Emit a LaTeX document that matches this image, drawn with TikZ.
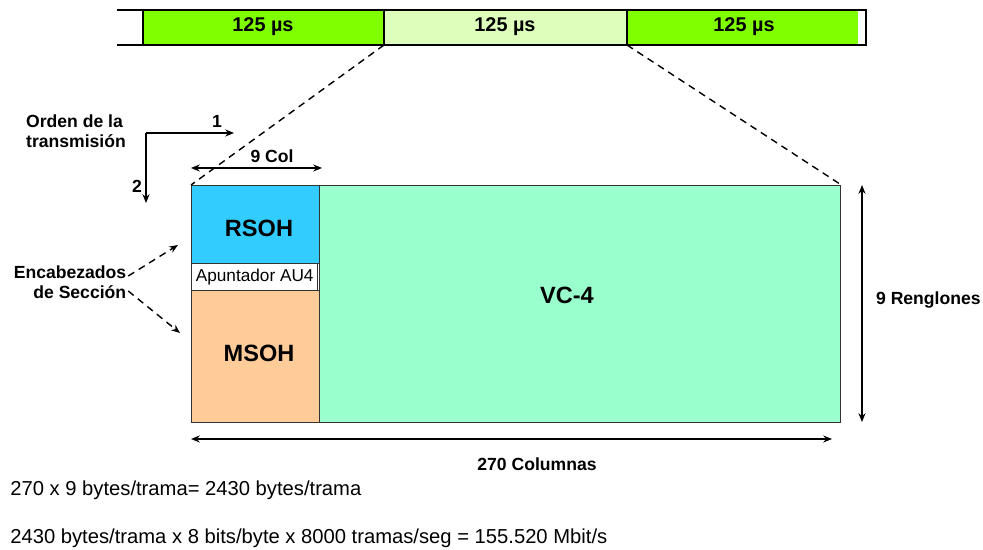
\documentclass[tikz,border=0pt]{standalone}
\usepackage{fontspec}
\setmainfont{Liberation Sans}
\usepackage{tikz}
\usetikzlibrary{arrows.meta}

\definecolor{brightgreen}{HTML}{80FF00}
\definecolor{palegreen}{HTML}{DDFFBB}
\definecolor{rsohblue}{HTML}{33CCFF}
\definecolor{msohtan}{HTML}{FFCC99}
\definecolor{vcgreen}{HTML}{99FFCC}

\tikzset{
  field/.style={draw=black!80, line width=0.8pt},
  dimarrow/.style={{Stealth[length=5pt,width=4pt]}-{Stealth[length=5pt,width=4pt]}, line width=0.7pt},
  zoomline/.style={dashed, dash pattern=on 4pt off 3pt, line width=0.8pt},
  hint/.style={-{Stealth[length=5pt,width=4pt]}, dashed, dash pattern=on 4pt off 3pt, line width=0.8pt},
  lbl/.style={font=\bfseries\fontsize{10}{11.5}\selectfont, inner sep=1pt},
  slot/.style={font=\bfseries\fontsize{11.3}{13}\selectfont},
  big/.style={font=\bfseries\fontsize{13.4}{15}\selectfont},
  calc/.style={font=\fontsize{11.5}{13}\selectfont, anchor=west, inner sep=0pt}
}

\begin{document}
\begin{tikzpicture}[x=0.02cm, y=-0.02cm]
  \useasboundingbox (0,0) rectangle (983,550);
  % frame sequence
  \fill[brightgreen] (143,10) rectangle (384,45);
  \fill[palegreen] (384,10) rectangle (627,45);
  \fill[brightgreen] (627,10) rectangle (858,45);
  \draw[line width=0.8pt] (117,10) -- (866,10) -- (866,45) -- (117,45);
  \draw[line width=0.8pt] (143,10) -- (143,45) (384,10) -- (384,45) (627,10) -- (627,45);
  \node[slot] (t1) at (263,27) {125 µs};
  \node[slot] (t2) at (505,27) {125 µs};
  \node[slot] (t3) at (744,27) {125 µs};
  \coordinate (fl) at (384,45);
  \coordinate (fr) at (627,45);
  % STM-1 frame
  \node[field, fill=vcgreen, minimum width=521*0.02cm, minimum height=237*0.02cm, anchor=north west,
        inner sep=0pt] (vc) at (319,185) {};
  \node[field, fill=rsohblue, minimum width=128*0.02cm, minimum height=78*0.02cm, anchor=north west,
        inner sep=0pt] (rsoh) at (191,185) {};
  \node[field, fill=white, minimum width=126*0.02cm, minimum height=27*0.02cm, anchor=north west,
        inner sep=0pt] (ptr) at (191,263) {};
  \node[field, fill=msohtan, minimum width=128*0.02cm, minimum height=132*0.02cm, anchor=north west,
        inner sep=0pt] (msoh) at (191,290) {};
  \node[big] at (259,228) {RSOH};
  \node[font=\fontsize{9.8}{11}\selectfont] at (ptr) {Apuntador AU4};
  \node[big] at (259,353) {MSOH};
  \node[big] at (567,295) {VC-4};
  \draw[zoomline] (fl) -- (rsoh.north west);
  \draw[zoomline] (fr) -- (vc.north east);
  % dimensions
  \coordinate (c1) at (191,168);
  \coordinate (c2) at (322,168);
  \draw[dimarrow] (c1) -- (c2);
  \node[lbl] (ncol) at (272,156) {9 Col};
  \coordinate (r1) at (862,185);
  \coordinate (r2) at (862,422);
  \draw[dimarrow] (r1) -- (r2);
  \node[lbl, anchor=west] (nren) at (874,300) {9 Renglones};
  \coordinate (b1) at (191,439);
  \coordinate (b2) at (832,439);
  \draw[dimarrow] (b1) -- (b2);
  \node[lbl] (ncols) at (537,464) {270 Columnas};
  % transmission order
  \node[lbl, align=left] (orden) at (76,131) {Orden de la\\transmisión};
  \coordinate (o0) at (146,133);
  \coordinate (o1) at (234,133);
  \coordinate (o2) at (146,203);
  \draw[-{Stealth[length=5pt,width=4pt]}, line width=0.7pt] (o0) -- (o1);
  \draw[-{Stealth[length=5pt,width=4pt]}, line width=0.7pt] (o0) -- (o2);
  \node[lbl] (n1) at (217,121) {1};
  \node[lbl] (n2) at (137,186) {2};
  % section overheads
  \node[lbl, align=right] (encab) at (70,282) {Encabezados\\de Sección};
  \draw[hint] (encab.east |- 0,276) -- (178,245);
  \draw[hint] (encab.east |- 0,291) -- (180,333);
  % rates
  \node[calc] (rate1) at (10,490) {270 x 9 bytes/trama= 2430 bytes/trama};
  \node[calc] (rate2) at (10,538) {2430 bytes/trama x 8 bits/byte x 8000 tramas/seg = 155.520 Mbit/s};
\end{tikzpicture}
\end{document}
